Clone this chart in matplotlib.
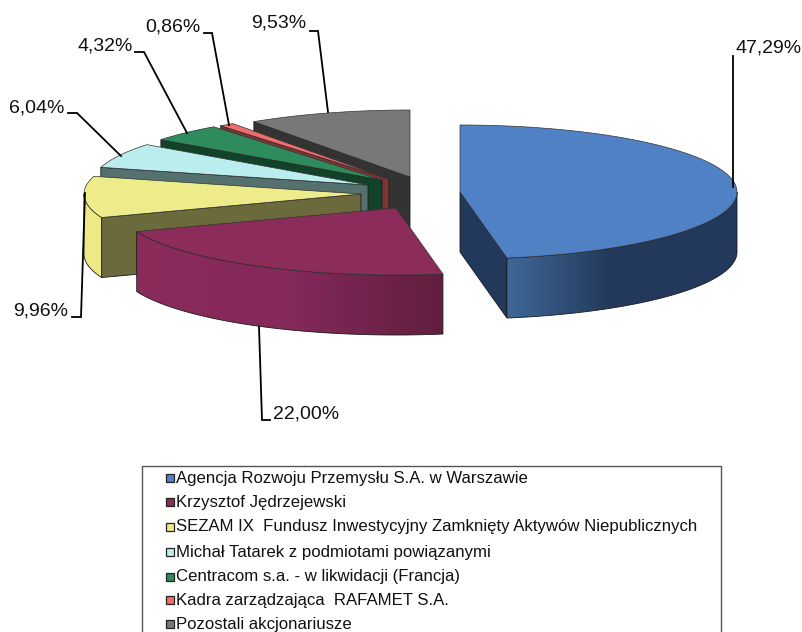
import numpy as np
import matplotlib
matplotlib.use('Agg')
import matplotlib.pyplot as plt
from matplotlib.patches import Polygon, Rectangle
from matplotlib.colors import LinearSegmentedColormap

plt.rcParams['font.family'] = ['Liberation Sans', 'DejaVu Sans']

#%% Data
names = ['Agencja Rozwoju Przemysłu S.A. w Warszawie',
         'Krzysztof Jędrzejewski',
         'SEZAM IX  Fundusz Inwestycyjny Zamknięty Aktywów Niepublicznych',
         'Michał Tatarek z podmiotami powiązanymi',
         'Centracom s.a. - w likwidacji (Francja)',
         'Kadra zarządzająca  RAFAMET S.A.',
         'Pozostali akcjonariusze']
shares = [47.29, 22.00, 9.96, 6.04, 4.32, 0.86, 9.53]

#%% Styles and layout (pixels)
top_col = ['#4F81C4', '#8B2C5B', '#EEEC8A', '#BAEEEE', '#2E8B5C', '#F06C6C', '#787878']
wall_col = ['#23395B', '#611E3F', '#6A6A3C', '#54706F', '#124228', '#7A3636', '#333333']
side_stops = [[(0, '#3F6897'), (0.45, '#23395B'), (1, '#23395B')],
              [(0, '#8B2C5B'), (0.5, '#84295A'), (1, '#611E3F')],
              [(0, '#EEE985'), (1, '#EEE985')],
              [(0, '#BAEEEE'), (1, '#BAEEEE')],
              [(0, '#2E8B5C'), (1, '#2E8B5C')],
              [(0, '#F06C6C'), (1, '#F06C6C')],
              [(0, '#787878'), (1, '#787878')]]
apex_x = [460, 396, 361, 368, 382, 389, 410]
apex_y = [192, 208, 194, 185, 180, 179, 177]
RX, RY, DEPTH = 277, 67, 60

label_xy = [(736, 48), (273, 414), (13, 311), (9, 108), (77, 46), (145, 27), (251, 23)]
leaders = [[(733, 56), (733, 187)],
           [(270, 420), (262, 420), (259, 327)],
           [(72, 317), (81, 317), (85, 193)],
           [(68, 113), (77, 113), (121, 156)],
           [(135, 52), (144, 52), (187, 133)],
           [(204, 33), (212, 33), (229, 125)],
           [(310, 31), (318, 31), (328, 112)]]
legend_y = [478, 502, 527, 552, 577, 600, 624]

fig = plt.figure(figsize=(8.02, 6.32), dpi=100)
ax = fig.add_axes([0, 0, 1, 1])


def rim(cx, cy, a0, a1, n=80):
    t = np.radians(np.linspace(a0, a1, n))
    return np.column_stack([cx + RX * np.sin(t), cy - RY * np.cos(t)])


#%% Slices, back to front
edges = np.concatenate([[0], np.cumsum(shares)]) * 3.6 / (sum(shares) / 100)
edge_col = '#1a1a1a'
for i in [6, 5, 4, 3, 2, 1, 0]:
    a0, a1 = edges[i], edges[i + 1]
    cx, cy = apex_x[i], apex_y[i]
    down = np.array([0, DEPTH])

    # radial walls that face the viewer
    for ang, show in [(a0, np.sin(np.radians(a0)) < -1e-6), (a1, np.sin(np.radians(a1)) > 1e-6)]:
        if show:
            p = rim(cx, cy, ang, ang, 1)[0]
            wall = [(cx, cy), p, p + down, (cx, cy + DEPTH)]
            ax.add_patch(Polygon(wall, fc=wall_col[i], ec=edge_col, lw=0.6, zorder=i * -3 + 30))

    # outer curved side with horizontal shading
    s0, s1 = max(a0, 90), min(a1, 270)
    if s1 > s0:
        arc = rim(cx, cy, s0, s1)
        poly = np.vstack([arc, arc[::-1] + down])
        x0, x1 = poly[:, 0].min(), poly[:, 0].max()
        y0, y1 = poly[:, 1].min(), poly[:, 1].max()
        cmap = LinearSegmentedColormap.from_list('side', side_stops[i])
        grad = np.linspace(0, 1, 256)[None, :]
        zo = i * -3 + 31
        im = ax.imshow(grad, extent=(x0, x1, y1, y0), cmap=cmap, aspect='auto', zorder=zo, vmin=0, vmax=1)
        outline = Polygon(poly, fc='none', ec=edge_col, lw=0.6, zorder=zo + 0.5)
        ax.add_patch(outline)
        im.set_clip_path(outline)

    # top face
    face = np.vstack([[(cx, cy)], rim(cx, cy, a0, a1)])
    ax.add_patch(Polygon(face, fc=top_col[i], ec='#333333', lw=0.5, zorder=i * -3 + 32))

ax.set_xlim(0, 802)
ax.set_ylim(632, 0)
ax.axis('off')

#%% Value labels with leader lines
for i, val in enumerate(shares):
    ax.text(label_xy[i][0], label_xy[i][1], f'{val:.2f}%'.replace('.', ','), fontsize=14,
            color='#111111', ha='left', va='center', zorder=50)
    xs, ys = zip(*leaders[i])
    ax.plot(xs, ys, color='black', lw=1.3, solid_joinstyle='miter', zorder=49)

#%% Legend box
ax.add_patch(Rectangle((142, 466), 579, 180, fc='white', ec='#555555', lw=1, zorder=40))
for i, name in enumerate(names):
    ax.add_patch(Rectangle((166, legend_y[i] - 4), 8, 8, fc=top_col[i], ec='#222222', lw=0.9, zorder=41))
    ax.text(176, legend_y[i], name, fontsize=12.1, color='#111111', va='center', ha='left', zorder=41)

fig.savefig('out.png', dpi=100)
